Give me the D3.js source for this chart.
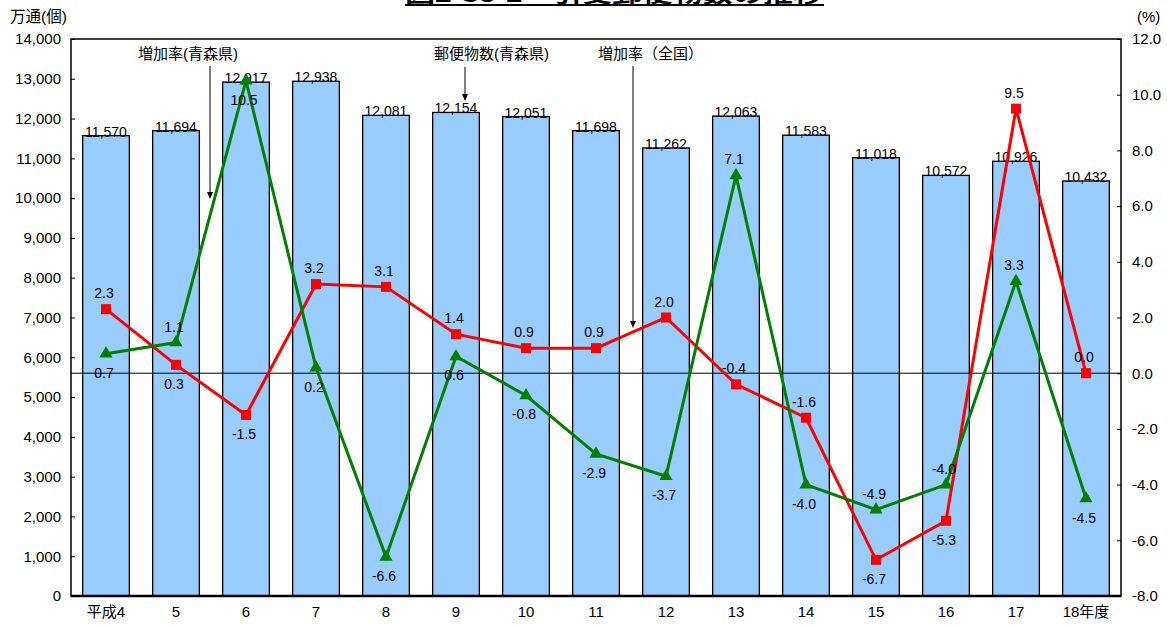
<!DOCTYPE html>
<html><head><meta charset="utf-8">
<script src="https://cdn.jsdelivr.net/npm/d3@7"></script>
<style>
body{margin:0;background:#fff;}
text{font-family:"Liberation Sans",Arial,"Noto Sans CJK JP",sans-serif;fill:#000;}
.jp{font-family:"Liberation Sans","Noto Sans CJK JP",sans-serif;}
</style></head>
<body>
<svg id="c" width="1167" height="627"></svg>
<script>
const categories = ["平成4","5","6","7","8","9","10","11","12","13","14","15","16","17","18年度"];
const mailVolume = [11570,11694,12917,12938,12081,12154,12051,11698,11262,12063,11583,11018,10572,10926,10432];
const rateAomori = [0.7,1.1,10.5,0.2,-6.6,0.6,-0.8,-2.9,-3.7,7.1,-4.0,-4.9,-4.0,3.3,-4.5];
const rateNational = [2.3,0.3,-1.5,3.2,3.1,1.4,0.9,0.9,2.0,-0.4,-1.6,-6.7,-5.3,9.5,0.0];
const leftTicks = [0,1000,2000,3000,4000,5000,6000,7000,8000,9000,10000,11000,12000,13000,14000];
const rightTicks = [-8,-6,-4,-2,0,2,4,6,8,10,12];
const title = "図2-36-1　引受郵便物数の推移";

// label placement (layout): 1 = above, -1 = below
const sideAomori = [-1,1,-1,-1,-1,-1,-1,-1,-1,1,-1,1,1,1,-1];
const sideNational = [1,-1,-1,1,1,1,1,1,1,1,1,-1,-1,1,1];

const svg = d3.select("#c");
const L=71, R=1121, T=39, B=596;

const x = d3.scaleBand().domain(categories).range([L,R]).paddingInner(0.333).paddingOuter(0.1667);
const yL = d3.scaleLinear().domain([0,14000]).range([B,T]);
const yR = d3.scaleLinear().domain([-8,12]).range([B,T]);

// title (cut off at top edge, as in the reference)
svg.append("text").attr("class","jp").attr("x",614).attr("y",2)
  .attr("text-anchor","middle").attr("font-size",22).attr("font-weight","bold")
  .attr("textLength",418).attr("lengthAdjust","spacingAndGlyphs").text(title);
svg.append("line").attr("x1",405).attr("x2",824).attr("y1",5).attr("y2",5).attr("stroke","#000").attr("stroke-width",2);

// bars
svg.append("g").selectAll("rect").data(mailVolume).join("rect")
  .attr("x",(d,i)=>x(categories[i])).attr("width",x.bandwidth())
  .attr("y",d=>yL(d)).attr("height",d=>B-yL(d))
  .attr("fill","#99CCFF").attr("stroke","#000").attr("stroke-width",1.3);

// bar labels
svg.append("g").selectAll("text").data(mailVolume).join("text")
  .attr("x",(d,i)=>x(categories[i])+x.bandwidth()/2).attr("y",d=>yL(d)+1)
  .attr("text-anchor","middle").attr("font-size",14).text(d=>d3.format(",")(d));

// zero line
svg.append("line").attr("x1",L).attr("x2",R).attr("y1",yR(0)).attr("y2",yR(0)).attr("stroke","#000").attr("stroke-width",1);

// frame
svg.append("rect").attr("x",L).attr("y",T).attr("width",R-L).attr("height",B-T).attr("fill","none").attr("stroke","#000").attr("stroke-width",1.5);
svg.append("line").attr("x1",L).attr("x2",R).attr("y1",B).attr("y2",B).attr("stroke","#000").attr("stroke-width",2.5);

// axes
const axL = d3.axisLeft(yL).tickValues(leftTicks).tickFormat(d3.format(",")).tickSizeInner(-4).tickSizeOuter(0).tickPadding(10);
const gL = svg.append("g").attr("transform",`translate(${L},0)`).call(axL);
gL.select(".domain").remove();
gL.selectAll("text").attr("font-size",15).attr("font-family","Liberation Sans, Arial").attr("fill","#000");
gL.selectAll("line").attr("stroke","#000");

const axR = d3.axisRight(yR).tickValues(rightTicks).tickFormat(d3.format(".1f")).tickSizeInner(-4).tickSizeOuter(0).tickPadding(11);
const gR = svg.append("g").attr("transform",`translate(${R},0)`).call(axR);
gR.select(".domain").remove();
gR.selectAll("text").attr("font-size",15).attr("font-family","Liberation Sans, Arial").attr("fill","#000")
  .text(d=>d3.format(".1f")(d).replace("−","-"));
gR.selectAll("line").attr("stroke","#000");

const axB = d3.axisBottom(x).tickSize(0).tickPadding(10);
const gB = svg.append("g").attr("transform",`translate(0,${B})`).call(axB);
gB.select(".domain").remove();
gB.selectAll("text").attr("font-size",15).attr("class","jp").attr("fill","#000");

// axis titles
svg.append("text").attr("class","jp").attr("x",10).attr("y",22).attr("font-size",15.5).text("万通(個)");
svg.append("text").attr("x",1137).attr("y",22).attr("font-size",15).text("(%)");

// lines
const cx = i => x(categories[i]) + x.bandwidth()/2;
const lineGen = d3.line().x((d,i)=>cx(i)).y(d=>yR(d));
svg.append("path").datum(rateNational).attr("d",lineGen).attr("fill","none").attr("stroke","#FF0000").attr("stroke-width",3);
svg.append("path").datum(rateAomori).attr("d",lineGen).attr("fill","none").attr("stroke","#008000").attr("stroke-width",3);

svg.append("g").selectAll("rect").data(rateNational).join("rect")
  .attr("x",(d,i)=>cx(i)-5).attr("y",d=>yR(d)-5).attr("width",10).attr("height",10).attr("fill","#FF0000");
const tri = d3.symbol().type(d3.symbolTriangle).size(75);
svg.append("g").selectAll("path").data(rateAomori).join("path")
  .attr("d",tri).attr("transform",(d,i)=>`translate(${cx(i)},${yR(d)})`).attr("fill","#008000");

// line labels
function lbl(arr, side){
  svg.append("g").selectAll("text").data(arr).join("text")
    .attr("x",(d,i)=>cx(i)-2)
    .attr("y",(d,i)=> yR(d) + (side[i]>0 ? -11 : 24))
    .attr("text-anchor","middle").attr("font-size",14)
    .text(d=>d3.format(".1f")(d).replace("−","-"));
}
lbl(rateNational, sideNational);
lbl(rateAomori, sideAomori);

// annotations
function ann(text, tx, ty, lx, y1, y2){
  svg.append("text").attr("class","jp").attr("x",tx).attr("y",ty).attr("font-size",15).text(text);
  svg.append("line").attr("x1",lx).attr("x2",lx).attr("y1",y1).attr("y2",y2-5).attr("stroke","#000").attr("stroke-width",1);
  svg.append("path").attr("d",`M${lx-3},${y2-7}L${lx+3},${y2-7}L${lx},${y2}Z`).attr("fill","#000");
}
ann("増加率(青森県)",138,59,210,66,199);
ann("郵便物数(青森県)",434,59,465,67,101);
ann("増加率（全国）",598,59,633,66,328);
</script>
</body></html>
